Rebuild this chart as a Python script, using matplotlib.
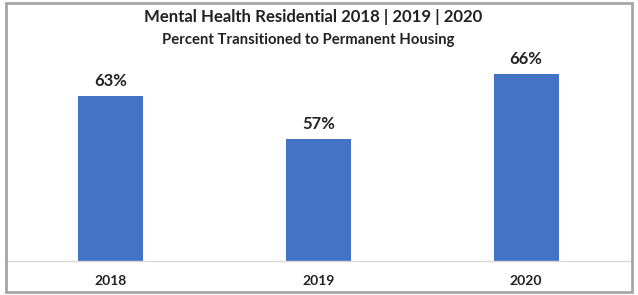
import matplotlib.pyplot as plt
from matplotlib.patches import Rectangle

# Dane
years = ['2018', '2019', '2020']
pct = [63, 57, 66]

W, H = 638, 295
plt.rcParams['font.family'] = ['Lato', 'DejaVu Sans']

fig = plt.figure(figsize=(W / 100, H / 100), dpi=100)
# ramka wokol wykresu
fig.patches.append(Rectangle((6 / W, 3 / H), 626 / W, 289 / H, transform=fig.transFigure,
                             fill=False, edgecolor='#A6A6A6', linewidth=2))

ax = fig.add_axes([7 / W, (H - 261) / H, 623 / W, 215.4 / H])
x = range(len(years))
ax.bar(x, pct, width=0.313, color='#4472C4', bottom=0)
ax.set_xlim(-0.5, 2.5)
ax.set_ylim(40, 70)
for i, v in zip(x, pct):
    ax.text(i, v + 0.95, f'{v}%', ha='center', va='bottom', fontsize=12,
            fontweight='bold', color='#222222')

for s in ['top', 'right', 'left']:
    ax.spines[s].set_visible(False)
ax.spines['bottom'].set_color('#D9D9D9')
ax.spines['bottom'].set_linewidth(1)
ax.set_yticks([])
ax.set_xticks(list(x))
ax.set_xticklabels(years, fontsize=10, fontweight='bold', color='#222222')
ax.tick_params(axis='x', length=0, pad=10)

fig.text(313 / W, 1 - 17 / H, 'Mental Health Residential 2018 | 2019 | 2020', ha='center',
         va='center', fontsize=12.1, fontweight='bold', color='#222222')
fig.text(308 / W, 1 - 40 / H, 'Percent Transitioned to Permanent Housing', ha='center',
         va='center', fontsize=10.7, fontweight='bold', color='#222222')

plt.savefig('out.png', dpi=100)
